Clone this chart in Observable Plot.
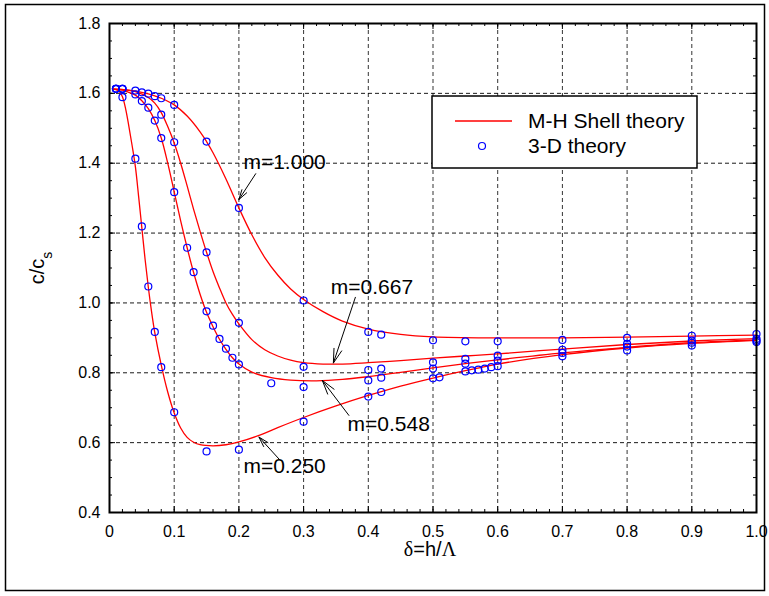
<!DOCTYPE html>
<html><head><meta charset="utf-8">
<script src="https://cdn.jsdelivr.net/npm/d3@7"></script>
<script src="https://cdn.jsdelivr.net/npm/@observablehq/plot@0.6"></script>
<style>
body{margin:0;background:#fff;}
svg{font-family:"Liberation Sans",Arial,sans-serif;}
</style>
</head><body><div id="chart"></div>
<script>
// ---- tick labels ----
const xTicks = [0, 0.1, 0.2, 0.3, 0.4, 0.5, 0.6, 0.7, 0.8, 0.9, 1.0];
const yTicks = [0.4, 0.6, 0.8, 1.0, 1.2, 1.4, 1.6, 1.8];

// ---- M-H shell theory curves [delta, c/cs] ----
const shell_m0250 = [[0.005,1.612],[0.01,1.611],[0.015,1.606],[0.02,1.59],[0.025,1.555],[0.03,1.505],[0.035,1.45],[0.04,1.39],[0.045,1.305],[0.05,1.215],[0.055,1.125],[0.06,1.045],[0.065,0.975],[0.07,0.915],[0.08,0.822],[0.09,0.745],[0.1,0.685],[0.11,0.642],[0.12,0.615],[0.13,0.601],[0.14,0.594],[0.16,0.591],[0.18,0.594],[0.2,0.602],[0.23,0.62],[0.26,0.643],[0.3,0.672],[0.35,0.705],[0.4,0.735],[0.45,0.762],[0.5,0.785],[0.55,0.806],[0.6,0.825],[0.7,0.852],[0.8,0.871],[0.9,0.884],[1.0,0.893]];
const shell_m0548 = [[0.005,1.612],[0.02,1.609],[0.03,1.603],[0.04,1.595],[0.05,1.579],[0.06,1.556],[0.07,1.522],[0.08,1.472],[0.09,1.4],[0.1,1.318],[0.11,1.235],[0.12,1.158],[0.13,1.087],[0.14,1.025],[0.15,0.973],[0.16,0.932],[0.17,0.896],[0.18,0.867],[0.19,0.843],[0.2,0.825],[0.22,0.802],[0.25,0.786],[0.28,0.779],[0.32,0.777],[0.36,0.781],[0.4,0.789],[0.45,0.801],[0.5,0.814],[0.55,0.826],[0.6,0.837],[0.7,0.857],[0.8,0.873],[0.9,0.886],[1.0,0.894]];
const shell_m0667 = [[0.005,1.612],[0.02,1.611],[0.04,1.605],[0.06,1.588],[0.07,1.572],[0.08,1.545],[0.09,1.505],[0.1,1.458],[0.11,1.4],[0.12,1.335],[0.13,1.268],[0.14,1.205],[0.15,1.145],[0.16,1.09],[0.17,1.043],[0.18,1.0],[0.19,0.967],[0.2,0.94],[0.22,0.895],[0.24,0.866],[0.26,0.848],[0.28,0.836],[0.3,0.829],[0.33,0.825],[0.36,0.825],[0.4,0.829],[0.45,0.835],[0.5,0.842],[0.55,0.848],[0.6,0.854],[0.7,0.868],[0.8,0.881],[0.9,0.891],[1.0,0.898]];
const shell_m1000 = [[0.005,1.612],[0.03,1.609],[0.05,1.603],[0.07,1.593],[0.08,1.586],[0.1,1.567],[0.12,1.535],[0.14,1.49],[0.15,1.462],[0.16,1.43],[0.18,1.355],[0.2,1.272],[0.22,1.195],[0.24,1.13],[0.26,1.08],[0.28,1.04],[0.3,1.01],[0.33,0.975],[0.36,0.948],[0.4,0.925],[0.45,0.91],[0.5,0.903],[0.6,0.9],[0.7,0.9],[0.8,0.902],[0.9,0.905],[1.0,0.908]];

// ---- 3-D theory points [delta, c/cs] ----
const solid_m0250 = [[0.01,1.613],[0.02,1.589],[0.04,1.413],[0.05,1.219],[0.06,1.047],[0.07,0.917],[0.08,0.816],[0.1,0.687],[0.15,0.575],[0.2,0.58],[0.3,0.66],[0.4,0.732],[0.42,0.745],[0.5,0.784],[0.51,0.787],[0.55,0.804],[0.56,0.807],[0.57,0.809],[0.58,0.812],[0.59,0.816],[0.6,0.819],[0.7,0.847],[0.8,0.864],[0.9,0.878],[1.0,0.888]];
const solid_m0548 = [[0.01,1.613],[0.02,1.613],[0.04,1.597],[0.05,1.578],[0.06,1.559],[0.07,1.522],[0.08,1.472],[0.1,1.317],[0.12,1.158],[0.13,1.088],[0.15,0.976],[0.16,0.935],[0.17,0.897],[0.18,0.869],[0.19,0.843],[0.2,0.824],[0.25,0.77],[0.3,0.759],[0.4,0.778],[0.42,0.786],[0.5,0.812],[0.55,0.826],[0.6,0.835],[0.7,0.857],[0.8,0.875],[0.9,0.886],[1.0,0.892]];
const solid_m0667 = [[0.01,1.613],[0.02,1.613],[0.08,1.539],[0.1,1.46],[0.15,1.145],[0.2,0.943],[0.3,0.817],[0.4,0.808],[0.42,0.812],[0.5,0.83],[0.55,0.84],[0.6,0.849],[0.7,0.866],[0.8,0.883],[0.9,0.892],[1.0,0.897]];
const solid_m1000 = [[0.01,1.613],[0.02,1.613],[0.04,1.608],[0.05,1.603],[0.06,1.599],[0.07,1.592],[0.08,1.586],[0.1,1.567],[0.15,1.462],[0.2,1.272],[0.3,1.007],[0.4,0.917],[0.42,0.909],[0.5,0.893],[0.55,0.89],[0.6,0.89],[0.7,0.894],[0.8,0.9],[0.9,0.906],[1.0,0.911]];

// ---- annotations ----
const annoText = ["m=1.000", "m=0.667", "m=0.548", "m=0.250"];
const annoTextX = [0.207, 0.342, 0.368, 0.207];
const annoTextY = [1.402, 1.044, 0.652, 0.532];
const arrowFromX = [0.226, 0.380, 0.370, 0.264];
const arrowFromY = [1.370, 1.016, 0.678, 0.549];
const arrowToX = [0.200, 0.346, 0.329, 0.231];
const arrowToY = [1.296, 0.828, 0.778, 0.616];

const legendLabels = ["M-H Shell theory", "3-D theory"];

// ---- build tables ----
const shellSets = {"1.000": shell_m1000, "0.667": shell_m0667, "0.548": shell_m0548, "0.250": shell_m0250};
const solidSets = {"1.000": solid_m1000, "0.667": solid_m0667, "0.548": solid_m0548, "0.250": solid_m0250};
const shellRows = Object.entries(shellSets).flatMap(([m, arr]) => arr.map(([x, y]) => ({m, x, y})));
const solidRows = Object.entries(solidSets).flatMap(([m, arr]) => arr.map(([x, y]) => ({m, x, y})));
const annoRows = annoText.map((t, i) => ({t, x: annoTextX[i], y: annoTextY[i]}));
const arrowRows = annoText.map((t, i) => ({x1: arrowFromX[i], y1: arrowFromY[i], x2: arrowToX[i], y2: arrowToY[i]}));
const xMinor = d3.range(0, 1.0001, 0.02);
const yMinor = d3.range(0.4, 1.8001, 0.05);

const W = 769, H = 596, mL = 109, mR = 13, mT = 23, mB = 84;
const pw = W - mL - mR, ph = H - mT - mB;

const chart = Plot.plot({
  width: W, height: H,
  marginLeft: mL, marginRight: mR, marginTop: mT, marginBottom: mB,
  style: {fontFamily: "'Liberation Sans', Arial, sans-serif", fontSize: "16px", background: "white", color: "black"},
  x: {domain: [0, 1]},
  y: {domain: [0.4, 1.8]},
  marks: [
    Plot.gridX(xTicks, {stroke: "black", strokeOpacity: 0.8, strokeDasharray: "4,3", strokeWidth: 1}),
    Plot.gridY(yTicks, {stroke: "black", strokeOpacity: 0.9, strokeDasharray: "4,3", strokeWidth: 1}),
    // inward ticks, bottom & top
    Plot.tickX(xMinor, {x: d => d, insetTop: ph - 3, stroke: "black"}),
    Plot.tickX(xMinor, {x: d => d, insetBottom: ph - 3, stroke: "black"}),
    Plot.tickX(xTicks, {x: d => d, insetTop: ph - 6, stroke: "black"}),
    Plot.tickX(xTicks, {x: d => d, insetBottom: ph - 6, stroke: "black"}),
    // inward ticks, left & right
    Plot.tickY(yMinor, {y: d => d, insetRight: pw - 3, stroke: "black"}),
    Plot.tickY(yMinor, {y: d => d, insetLeft: pw - 3, stroke: "black"}),
    Plot.tickY(yTicks, {y: d => d, insetRight: pw - 6, stroke: "black"}),
    Plot.tickY(yTicks, {y: d => d, insetLeft: pw - 6, stroke: "black"}),
    Plot.line(shellRows, {x: "x", y: "y", z: "m", stroke: "#ff0000", strokeWidth: 1.3, curve: "catmull-rom"}),
    Plot.dot(solidRows, {x: "x", y: "y", r: 3.5, stroke: "#0000ff", strokeWidth: 1.2, fill: "none"}),
    Plot.arrow(arrowRows, {x1: "x1", y1: "y1", x2: "x2", y2: "y2", stroke: "black", strokeWidth: 1, headLength: 22, headAngle: 32}),
    Plot.text(annoRows, {x: "x", y: "y", text: "t", textAnchor: "start", fontSize: 21, fill: "black"}),
    Plot.axisX(xTicks, {tickSize: 0, tickPadding: 13, tickFormat: d => d === 0 ? "0" : d.toFixed(1), label: null, fontSize: 16}),
    Plot.axisY(yTicks, {tickSize: 0, tickPadding: 9, tickFormat: d => d.toFixed(1), label: null, fontSize: 16}),
    Plot.frame({stroke: "black", strokeWidth: 2})
  ]
});
document.getElementById("chart").append(chart);

const svg = d3.select(chart);
// outer figure border
svg.append("rect").attr("x", 5.5).attr("y", 4.5).attr("width", 759).attr("height", 586)
  .attr("fill", "none").attr("stroke", "black").attr("stroke-width", 1.5);

// axis labels
const yl = svg.append("text").attr("transform", "translate(44,268) rotate(-90)")
  .attr("text-anchor", "middle").attr("font-size", 20).attr("fill", "black");
yl.append("tspan").text("c/c");
yl.append("tspan").attr("baseline-shift", "sub").attr("font-size", 14).text("s");

const xl = svg.append("text").attr("x", 430).attr("y", 556).attr("text-anchor", "middle")
  .attr("font-size", 20).attr("fill", "black");
xl.append("tspan").attr("font-family", "'Liberation Serif', serif").text("δ");
xl.append("tspan").text("=h/");
xl.append("tspan").attr("font-family", "'Liberation Serif', serif").text("Λ");

// legend
const lg = svg.append("g");
lg.append("rect").attr("x", 432).attr("y", 96).attr("width", 265).attr("height", 72)
  .attr("fill", "white").attr("stroke", "black").attr("stroke-width", 1.5);
lg.append("line").attr("x1", 455).attr("x2", 512).attr("y1", 121).attr("y2", 121)
  .attr("stroke", "#ff0000").attr("stroke-width", 1.3);
lg.append("circle").attr("cx", 482).attr("cy", 146).attr("r", 3.5)
  .attr("fill", "none").attr("stroke", "#0000ff").attr("stroke-width", 1.2);
lg.append("text").attr("x", 528).attr("y", 121).attr("dy", "0.35em").attr("text-anchor", "start")
  .attr("font-size", 21).attr("fill", "black").text(legendLabels[0]);
lg.append("text").attr("x", 528).attr("y", 146).attr("dy", "0.35em").attr("text-anchor", "start")
  .attr("font-size", 21).attr("fill", "black").text(legendLabels[1]);
</script>
</body></html>
